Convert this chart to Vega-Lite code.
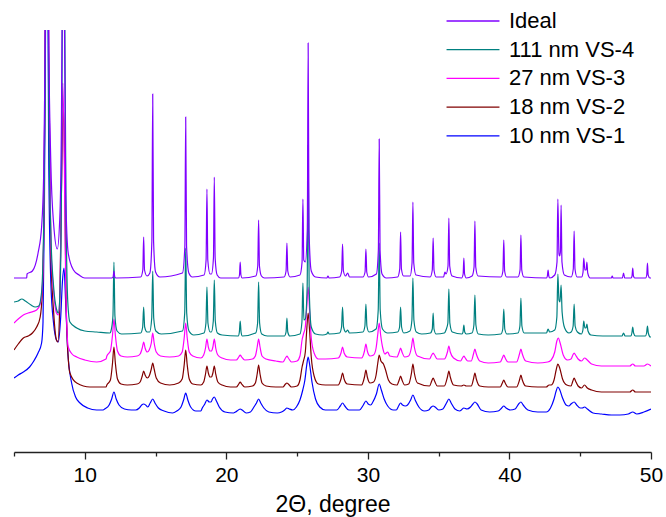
{
"$schema":"https://vega.github.io/schema/vega-lite/v6.json",
"width":637,"height":422,
"autosize":{"type":"none"},
"padding":{"left":14,"top":30,"right":15,"bottom":65},
"config":{"view":{"stroke":null},"font":"Liberation Sans"},
"datasets":{
"ideal":[{"x":5,"y":174},{"x":5.9,"y":174},{"x":5.92,"y":178},{"x":6.3,"y":181},{"x":6.7,"y":199},{"x":6.95,"y":225},{"x":7.1,"y":280},{"x":7.2,"y":400},{"x":7.33,"y":700},{"x":7.45,"y":420},{"x":7.6,"y":290},{"x":7.8,"y":228},{"x":8.06,"y":203},{"x":8.25,"y":240},{"x":8.35,"y":330},{"x":8.42,"y":480},{"x":8.48,"y":700},{"x":8.56,"y":450},{"x":8.65,"y":260},{"x":8.83,"y":199},{"x":9.2,"y":182},{"x":9.6,"y":177},{"x":10.0,"y":174},{"x":11.9,"y":174},{"x":12.0,"y":175},{"x":12.06,"y":181},{"x":12.12,"y":175},{"x":12.2,"y":174},{"x":13.95,"y":175},{"x":14.1,"y":182},{"x":14.16,"y":215},{"x":14.22,"y":182},{"x":14.4,"y":176},{"x":14.6,"y":179},{"x":14.74,"y":211},{"x":14.8,"y":358},{"x":14.86,"y":211},{"x":15.0,"y":180},{"x":15.3,"y":175},{"x":16.9,"y":179},{"x":17.07,"y":206},{"x":17.13,"y":335},{"x":17.19,"y":206},{"x":17.35,"y":179},{"x":17.6,"y":175},{"x":18.43,"y":177},{"x":18.57,"y":192},{"x":18.63,"y":263},{"x":18.69,"y":192},{"x":18.85,"y":178},{"x":18.95,"y":178},{"x":19.09,"y":194},{"x":19.15,"y":275},{"x":19.21,"y":194},{"x":19.35,"y":177},{"x":19.6,"y":174},{"x":20.85,"y":174},{"x":20.93,"y":177},{"x":20.98,"y":190},{"x":21.03,"y":177},{"x":21.12,"y":174},{"x":22.08,"y":176},{"x":22.22,"y":186},{"x":22.28,"y":232},{"x":22.34,"y":186},{"x":22.48,"y":176},{"x":22.7,"y":174},{"x":24.08,"y":175},{"x":24.22,"y":181},{"x":24.28,"y":209},{"x":24.34,"y":181},{"x":24.5,"y":175},{"x":25.2,"y":177},{"x":25.35,"y":190},{"x":25.41,"y":253},{"x":25.47,"y":192},{"x":25.58,"y":190},{"x":25.72,"y":222},{"x":25.78,"y":409},{"x":25.84,"y":222},{"x":26.0,"y":181},{"x":26.3,"y":175},{"x":27.1,"y":174},{"x":27.18,"y":176},{"x":27.26,"y":174},{"x":28.0,"y":175},{"x":28.15,"y":181},{"x":28.21,"y":208},{"x":28.27,"y":181},{"x":28.42,"y":176},{"x":28.57,"y":179},{"x":28.7,"y":175},{"x":29.65,"y":175},{"x":29.8,"y":180},{"x":29.86,"y":203},{"x":29.92,"y":180},{"x":30.05,"y":175},{"x":30.6,"y":178},{"x":30.74,"y":202},{"x":30.8,"y":313},{"x":30.86,"y":202},{"x":31.0,"y":178},{"x":31.3,"y":174},{"x":32.1,"y":175},{"x":32.25,"y":183},{"x":32.31,"y":220},{"x":32.37,"y":183},{"x":32.52,"y":176},{"x":32.98,"y":176},{"x":33.12,"y":189},{"x":33.18,"y":250},{"x":33.24,"y":189},{"x":33.4,"y":177},{"x":34.4,"y":175},{"x":34.55,"y":182},{"x":34.61,"y":214},{"x":34.67,"y":182},{"x":34.82,"y":175},{"x":35.35,"y":175},{"x":35.44,"y":180},{"x":35.52,"y":178},{"x":35.66,"y":186},{"x":35.72,"y":234},{"x":35.78,"y":186},{"x":35.95,"y":176},{"x":36.62,"y":174},{"x":36.73,"y":178},{"x":36.78,"y":194},{"x":36.83,"y":178},{"x":36.95,"y":174},{"x":37.36,"y":176},{"x":37.5,"y":185},{"x":37.56,"y":231},{"x":37.62,"y":185},{"x":37.78,"y":176},{"x":39.4,"y":175},{"x":39.54,"y":181},{"x":39.6,"y":212},{"x":39.66,"y":181},{"x":39.8,"y":175},{"x":40.6,"y":175},{"x":40.75,"y":182},{"x":40.81,"y":217},{"x":40.87,"y":182},{"x":41.02,"y":175},{"x":42.62,"y":174},{"x":42.68,"y":176},{"x":42.73,"y":182},{"x":42.78,"y":176},{"x":42.85,"y":174},{"x":43.2,"y":177},{"x":43.36,"y":190},{"x":43.42,"y":253},{"x":43.5,"y":198},{"x":43.54,"y":196},{"x":43.6,"y":200},{"x":43.65,"y":247},{"x":43.71,"y":190},{"x":43.88,"y":177},{"x":44.36,"y":175},{"x":44.51,"y":183},{"x":44.57,"y":221},{"x":44.63,"y":183},{"x":44.78,"y":175},{"x":45.1,"y":175},{"x":45.2,"y":180},{"x":45.25,"y":194},{"x":45.33,"y":182},{"x":45.42,"y":182},{"x":45.47,"y":190},{"x":45.53,"y":179},{"x":45.7,"y":174},{"x":47.2,"y":174},{"x":47.26,"y":176},{"x":47.32,"y":174},{"x":47.98,"y":174},{"x":48.06,"y":179},{"x":48.14,"y":174},{"x":48.6,"y":174},{"x":48.66,"y":176},{"x":48.71,"y":184},{"x":48.76,"y":176},{"x":48.85,"y":174},{"x":49.62,"y":174},{"x":49.7,"y":177},{"x":49.75,"y":189},{"x":49.8,"y":177},{"x":49.92,"y":174},{"x":50,"y":174}],
"v4":[{"x":5,"y":150},{"x":5.3,"y":151},{"x":5.55,"y":153},{"x":5.8,"y":151},{"x":6.2,"y":147},{"x":6.5,"y":145},{"x":6.75,"y":146},{"x":6.95,"y":160},{"x":7.1,"y":230},{"x":7.2,"y":350},{"x":7.33,"y":700},{"x":7.45,"y":350},{"x":7.6,"y":220},{"x":7.8,"y":165},{"x":8.0,"y":143},{"x":8.13,"y":139},{"x":8.25,"y":160},{"x":8.35,"y":260},{"x":8.42,"y":450},{"x":8.5,"y":700},{"x":8.58,"y":450},{"x":8.67,"y":250},{"x":8.8,"y":150},{"x":8.95,"y":130},{"x":9.43,"y":124},{"x":10.0,"y":121},{"x":10.84,"y":120},{"x":11.78,"y":119},{"x":11.85,"y":121},{"x":11.99,"y":136},{"x":12.06,"y":190},{"x":12.13,"y":136},{"x":12.28,"y":121},{"x":12.6,"y":118},{"x":13.95,"y":119},{"x":14.09,"y":125},{"x":14.16,"y":145},{"x":14.23,"y":125},{"x":14.4,"y":120},{"x":14.58,"y":120},{"x":14.73,"y":134},{"x":14.8,"y":181},{"x":14.87,"y":134},{"x":15.02,"y":121},{"x":15.4,"y":118},{"x":16.9,"y":121},{"x":17.06,"y":139},{"x":17.13,"y":204},{"x":17.2,"y":139},{"x":17.36,"y":121},{"x":17.7,"y":117},{"x":18.42,"y":119},{"x":18.56,"y":129},{"x":18.63,"y":165},{"x":18.7,"y":129},{"x":18.86,"y":120},{"x":18.94,"y":120},{"x":19.08,"y":131},{"x":19.15,"y":172},{"x":19.22,"y":131},{"x":19.37,"y":119},{"x":19.7,"y":117},{"x":20.84,"y":116},{"x":20.92,"y":120},{"x":20.98,"y":131},{"x":21.04,"y":120},{"x":21.13,"y":116},{"x":22.07,"y":119},{"x":22.21,"y":129},{"x":22.28,"y":170},{"x":22.35,"y":129},{"x":22.5,"y":118},{"x":22.9,"y":116},{"x":24.1,"y":116},{"x":24.22,"y":120},{"x":24.28,"y":134},{"x":24.34,"y":120},{"x":24.48,"y":116},{"x":25.2,"y":118},{"x":25.34,"y":130},{"x":25.41,"y":169},{"x":25.48,"y":132},{"x":25.58,"y":133},{"x":25.71,"y":165},{"x":25.78,"y":307},{"x":25.85,"y":165},{"x":26.0,"y":125},{"x":26.3,"y":118},{"x":26.8,"y":117},{"x":27.1,"y":118},{"x":27.18,"y":120},{"x":27.26,"y":118},{"x":28.0,"y":119},{"x":28.14,"y":125},{"x":28.21,"y":145},{"x":28.28,"y":125},{"x":28.44,"y":120},{"x":28.57,"y":122},{"x":28.7,"y":119},{"x":29.65,"y":120},{"x":29.79,"y":126},{"x":29.86,"y":148},{"x":29.93,"y":126},{"x":30.08,"y":120},{"x":30.58,"y":123},{"x":30.73,"y":142},{"x":30.8,"y":209},{"x":30.87,"y":142},{"x":31.03,"y":123},{"x":31.4,"y":119},{"x":32.1,"y":120},{"x":32.24,"y":125},{"x":32.31,"y":145},{"x":32.38,"y":125},{"x":32.54,"y":119},{"x":32.97,"y":121},{"x":33.11,"y":132},{"x":33.18,"y":174},{"x":33.25,"y":132},{"x":33.42,"y":120},{"x":33.8,"y":118},{"x":34.42,"y":119},{"x":34.55,"y":123},{"x":34.61,"y":139},{"x":34.67,"y":123},{"x":34.82,"y":118},{"x":35.4,"y":119},{"x":35.52,"y":122},{"x":35.65,"y":129},{"x":35.72,"y":163},{"x":35.79,"y":129},{"x":35.96,"y":120},{"x":36.65,"y":118},{"x":36.72,"y":120},{"x":36.78,"y":127},{"x":36.84,"y":120},{"x":36.95,"y":118},{"x":37.35,"y":119},{"x":37.49,"y":127},{"x":37.56,"y":157},{"x":37.63,"y":127},{"x":37.8,"y":118},{"x":38.5,"y":117},{"x":39.4,"y":118},{"x":39.53,"y":123},{"x":39.6,"y":143},{"x":39.67,"y":123},{"x":39.82,"y":118},{"x":40.6,"y":119},{"x":40.74,"y":126},{"x":40.81,"y":154},{"x":40.88,"y":126},{"x":41.04,"y":119},{"x":42.0,"y":119},{"x":42.62,"y":119},{"x":42.73,"y":123},{"x":42.84,"y":120},{"x":43.2,"y":122},{"x":43.35,"y":135},{"x":43.42,"y":178},{"x":43.5,"y":152},{"x":43.57,"y":150},{"x":43.65,"y":167},{"x":43.72,"y":140},{"x":43.9,"y":124},{"x":44.2,"y":119},{"x":44.36,"y":120},{"x":44.5,"y":126},{"x":44.57,"y":148},{"x":44.64,"y":126},{"x":44.8,"y":120},{"x":45.08,"y":118},{"x":45.19,"y":122},{"x":45.25,"y":131},{"x":45.33,"y":124},{"x":45.41,"y":124},{"x":45.47,"y":128},{"x":45.55,"y":121},{"x":45.75,"y":117},{"x":46.6,"y":116},{"x":47.5,"y":116},{"x":47.95,"y":116},{"x":48.06,"y":119},{"x":48.17,"y":116},{"x":48.58,"y":116},{"x":48.65,"y":119},{"x":48.71,"y":125},{"x":48.77,"y":119},{"x":48.9,"y":116},{"x":49.6,"y":116},{"x":49.69,"y":119},{"x":49.75,"y":126},{"x":49.81,"y":119},{"x":49.95,"y":115},{"x":50,"y":115}],
"v3":[{"x":5,"y":129},{"x":5.3,"y":133},{"x":5.66,"y":137},{"x":6.0,"y":139},{"x":6.6,"y":142},{"x":6.85,"y":148},{"x":7.0,"y":165},{"x":7.1,"y":220},{"x":7.2,"y":400},{"x":7.33,"y":700},{"x":7.45,"y":400},{"x":7.6,"y":210},{"x":7.8,"y":160},{"x":8.0,"y":139},{"x":8.13,"y":137},{"x":8.25,"y":160},{"x":8.35,"y":260},{"x":8.45,"y":369},{"x":8.55,"y":300},{"x":8.65,"y":170},{"x":8.83,"y":105},{"x":9.1,"y":98},{"x":9.43,"y":95},{"x":10.0,"y":92},{"x":10.84,"y":90},{"x":11.5,"y":93},{"x":11.56,"y":96},{"x":11.81,"y":101},{"x":11.96,"y":117},{"x":12.06,"y":133},{"x":12.16,"y":117},{"x":12.31,"y":101},{"x":12.56,"y":96},{"x":13.0,"y":95},{"x":13.7,"y":96},{"x":13.91,"y":98},{"x":14.06,"y":104},{"x":14.16,"y":110},{"x":14.26,"y":104},{"x":14.42,"y":100},{"x":14.55,"y":102},{"x":14.7,"y":109},{"x":14.8,"y":119},{"x":14.9,"y":109},{"x":15.05,"y":100},{"x":15.35,"y":96},{"x":16.0,"y":95},{"x":16.63,"y":96},{"x":16.88,"y":100},{"x":17.03,"y":115},{"x":17.13,"y":129},{"x":17.23,"y":115},{"x":17.38,"y":100},{"x":17.63,"y":96},{"x":18.2,"y":94},{"x":18.4,"y":97},{"x":18.53,"y":104},{"x":18.63,"y":113},{"x":18.73,"y":105},{"x":18.85,"y":101},{"x":18.95,"y":101},{"x":19.05,"y":105},{"x":19.15,"y":113},{"x":19.25,"y":104},{"x":19.4,"y":97},{"x":19.7,"y":94},{"x":20.3,"y":92},{"x":20.7,"y":92},{"x":20.88,"y":95},{"x":20.98,"y":97},{"x":21.08,"y":95},{"x":21.3,"y":92},{"x":21.85,"y":93},{"x":22.05,"y":96},{"x":22.18,"y":105},{"x":22.28,"y":113},{"x":22.38,"y":105},{"x":22.52,"y":96},{"x":22.8,"y":93},{"x":23.5,"y":91},{"x":24.0,"y":90},{"x":24.18,"y":94},{"x":24.28,"y":96},{"x":24.38,"y":94},{"x":24.6,"y":90},{"x":25.0,"y":91},{"x":25.2,"y":96},{"x":25.35,"y":112},{"x":25.45,"y":118},{"x":25.58,"y":125},{"x":25.68,"y":145},{"x":25.78,"y":165},{"x":25.88,"y":142},{"x":26.0,"y":114},{"x":26.2,"y":99},{"x":26.5,"y":93},{"x":27.0,"y":93},{"x":27.9,"y":94},{"x":28.1,"y":99},{"x":28.21,"y":105},{"x":28.32,"y":99},{"x":28.55,"y":95},{"x":29.55,"y":94},{"x":29.76,"y":101},{"x":29.86,"y":108},{"x":29.96,"y":101},{"x":30.15,"y":96},{"x":30.4,"y":97},{"x":30.58,"y":104},{"x":30.7,"y":118},{"x":30.8,"y":129},{"x":30.9,"y":117},{"x":31.05,"y":104},{"x":31.2,"y":98},{"x":31.4,"y":100},{"x":31.55,"y":96},{"x":32.05,"y":95},{"x":32.21,"y":100},{"x":32.31,"y":104},{"x":32.41,"y":100},{"x":32.6,"y":95},{"x":32.88,"y":96},{"x":33.08,"y":105},{"x":33.18,"y":114},{"x":33.28,"y":105},{"x":33.5,"y":96},{"x":34.35,"y":93},{"x":34.51,"y":97},{"x":34.61,"y":99},{"x":34.71,"y":97},{"x":34.9,"y":93},{"x":35.4,"y":93},{"x":35.62,"y":100},{"x":35.72,"y":106},{"x":35.82,"y":100},{"x":36.05,"y":94},{"x":36.55,"y":91},{"x":36.68,"y":94},{"x":36.78,"y":96},{"x":36.88,"y":94},{"x":37.05,"y":91},{"x":37.3,"y":91},{"x":37.46,"y":98},{"x":37.56,"y":103},{"x":37.66,"y":98},{"x":37.9,"y":91},{"x":38.5,"y":89},{"x":39.35,"y":90},{"x":39.5,"y":94},{"x":39.6,"y":97},{"x":39.7,"y":94},{"x":39.9,"y":90},{"x":40.5,"y":90},{"x":40.71,"y":98},{"x":40.81,"y":103},{"x":40.91,"y":98},{"x":41.15,"y":91},{"x":42.0,"y":89},{"x":42.7,"y":90},{"x":42.95,"y":92},{"x":43.2,"y":100},{"x":43.35,"y":111},{"x":43.45,"y":114},{"x":43.6,"y":108},{"x":43.8,"y":97},{"x":44.1,"y":92},{"x":44.35,"y":93},{"x":44.48,"y":97},{"x":44.57,"y":99},{"x":44.67,"y":97},{"x":44.85,"y":93},{"x":45.1,"y":91},{"x":45.3,"y":94},{"x":45.5,"y":92},{"x":45.8,"y":88},{"x":46.5,"y":86},{"x":47.5,"y":86},{"x":48.5,"y":86},{"x":48.71,"y":88},{"x":48.9,"y":86},{"x":49.5,"y":86},{"x":49.75,"y":88},{"x":50,"y":86}],
"v2":[{"x":5,"y":102},{"x":5.3,"y":108},{"x":5.66,"y":114},{"x":6.0,"y":116},{"x":6.3,"y":119},{"x":6.6,"y":125},{"x":6.85,"y":135},{"x":7.0,"y":160},{"x":7.1,"y":220},{"x":7.2,"y":400},{"x":7.33,"y":700},{"x":7.45,"y":400},{"x":7.6,"y":200},{"x":7.8,"y":140},{"x":8.0,"y":112},{"x":8.1,"y":110},{"x":8.22,"y":140},{"x":8.32,"y":230},{"x":8.42,"y":320},{"x":8.5,"y":344},{"x":8.58,"y":280},{"x":8.68,"y":150},{"x":8.85,"y":90},{"x":8.95,"y":79},{"x":9.43,"y":69},{"x":10.37,"y":65},{"x":11.5,"y":65},{"x":11.56,"y":67},{"x":11.81,"y":72},{"x":11.96,"y":89},{"x":12.06,"y":105},{"x":12.16,"y":89},{"x":12.31,"y":73},{"x":12.56,"y":68},{"x":13.0,"y":67},{"x":13.7,"y":68},{"x":13.91,"y":70},{"x":14.06,"y":76},{"x":14.16,"y":81},{"x":14.26,"y":77},{"x":14.42,"y":74},{"x":14.55,"y":76},{"x":14.7,"y":83},{"x":14.8,"y":89},{"x":14.9,"y":83},{"x":15.05,"y":74},{"x":15.35,"y":69},{"x":16.0,"y":67},{"x":16.63,"y":69},{"x":16.88,"y":73},{"x":17.03,"y":88},{"x":17.13,"y":102},{"x":17.23,"y":88},{"x":17.38,"y":73},{"x":17.63,"y":68},{"x":18.2,"y":67},{"x":18.4,"y":70},{"x":18.53,"y":78},{"x":18.63,"y":86},{"x":18.73,"y":79},{"x":18.85,"y":75},{"x":18.95,"y":75},{"x":19.05,"y":79},{"x":19.15,"y":86},{"x":19.25,"y":78},{"x":19.4,"y":70},{"x":19.7,"y":67},{"x":20.3,"y":65},{"x":20.7,"y":65},{"x":20.88,"y":68},{"x":20.98,"y":70},{"x":21.08,"y":68},{"x":21.3,"y":65},{"x":21.85,"y":66},{"x":22.05,"y":69},{"x":22.18,"y":78},{"x":22.28,"y":87},{"x":22.38,"y":78},{"x":22.52,"y":69},{"x":22.8,"y":66},{"x":23.5,"y":65},{"x":24.0,"y":65},{"x":24.18,"y":68},{"x":24.28,"y":69},{"x":24.38,"y":68},{"x":24.6,"y":65},{"x":25.0,"y":66},{"x":25.2,"y":72},{"x":25.35,"y":85},{"x":25.45,"y":91},{"x":25.58,"y":100},{"x":25.68,"y":122},{"x":25.78,"y":139},{"x":25.88,"y":122},{"x":26.0,"y":95},{"x":26.2,"y":76},{"x":26.5,"y":68},{"x":27.0,"y":67},{"x":27.9,"y":67},{"x":28.1,"y":73},{"x":28.21,"y":79},{"x":28.32,"y":73},{"x":28.55,"y":68},{"x":29.55,"y":67},{"x":29.76,"y":75},{"x":29.86,"y":82},{"x":29.96,"y":75},{"x":30.15,"y":69},{"x":30.4,"y":70},{"x":30.58,"y":77},{"x":30.7,"y":89},{"x":30.8,"y":97},{"x":30.92,"y":91},{"x":31.1,"y":88},{"x":31.25,"y":82},{"x":31.45,"y":72},{"x":31.7,"y":68},{"x":32.05,"y":67},{"x":32.21,"y":72},{"x":32.31,"y":76},{"x":32.41,"y":72},{"x":32.6,"y":67},{"x":32.88,"y":68},{"x":33.08,"y":79},{"x":33.18,"y":88},{"x":33.28,"y":79},{"x":33.5,"y":69},{"x":34.35,"y":66},{"x":34.51,"y":71},{"x":34.61,"y":74},{"x":34.71,"y":71},{"x":34.9,"y":66},{"x":35.4,"y":66},{"x":35.62,"y":75},{"x":35.72,"y":81},{"x":35.82,"y":75},{"x":36.05,"y":67},{"x":36.6,"y":66},{"x":36.78,"y":67},{"x":36.95,"y":66},{"x":37.3,"y":66},{"x":37.46,"y":73},{"x":37.56,"y":79},{"x":37.66,"y":73},{"x":37.9,"y":66},{"x":38.5,"y":65},{"x":39.35,"y":65},{"x":39.5,"y":69},{"x":39.6,"y":72},{"x":39.7,"y":69},{"x":39.9,"y":65},{"x":40.5,"y":65},{"x":40.71,"y":72},{"x":40.81,"y":77},{"x":40.91,"y":72},{"x":41.15,"y":66},{"x":42.0,"y":65},{"x":42.6,"y":65},{"x":42.8,"y":67},{"x":42.95,"y":67},{"x":43.15,"y":72},{"x":43.3,"y":82},{"x":43.42,"y":88},{"x":43.55,"y":84},{"x":43.75,"y":73},{"x":44.05,"y":67},{"x":44.35,"y":66},{"x":44.48,"y":71},{"x":44.57,"y":74},{"x":44.67,"y":71},{"x":44.85,"y":66},{"x":45.1,"y":64},{"x":45.3,"y":67},{"x":45.5,"y":64},{"x":45.8,"y":62},{"x":46.5,"y":60},{"x":47.5,"y":60},{"x":48.5,"y":60},{"x":48.71,"y":62},{"x":48.9,"y":60},{"x":50,"y":60}],
"v1":[{"x":5,"y":74},{"x":5.3,"y":77},{"x":5.66,"y":80},{"x":6.1,"y":85},{"x":6.4,"y":91},{"x":6.7,"y":99},{"x":6.95,"y":109},{"x":7.05,"y":130},{"x":7.15,"y":250},{"x":7.3,"y":700},{"x":7.45,"y":300},{"x":7.6,"y":170},{"x":7.8,"y":128},{"x":8.0,"y":112},{"x":8.13,"y":110},{"x":8.3,"y":135},{"x":8.42,"y":170},{"x":8.53,"y":184},{"x":8.65,"y":150},{"x":8.8,"y":100},{"x":9.07,"y":69},{"x":9.35,"y":55},{"x":9.66,"y":49},{"x":10.2,"y":44},{"x":10.84,"y":42},{"x":11.3,"y":42},{"x":11.4,"y":43},{"x":11.72,"y":47},{"x":11.9,"y":53},{"x":12.06,"y":60},{"x":12.22,"y":53},{"x":12.42,"y":47},{"x":12.8,"y":43},{"x":13.3,"y":42},{"x":13.6,"y":42},{"x":13.85,"y":44},{"x":14.02,"y":47},{"x":14.16,"y":48},{"x":14.3,"y":47},{"x":14.45,"y":45},{"x":14.62,"y":49},{"x":14.8,"y":53},{"x":14.96,"y":49},{"x":15.2,"y":44},{"x":15.6,"y":41},{"x":16.2,"y":39},{"x":16.5,"y":41},{"x":16.8,"y":45},{"x":16.98,"y":52},{"x":17.13,"y":59},{"x":17.28,"y":52},{"x":17.48,"y":45},{"x":17.85,"y":41},{"x":18.2,"y":41},{"x":18.3,"y":44},{"x":18.48,"y":48},{"x":18.63,"y":52},{"x":18.8,"y":50},{"x":18.92,"y":50},{"x":19.02,"y":53},{"x":19.15,"y":55},{"x":19.3,"y":51},{"x":19.5,"y":45},{"x":19.9,"y":40},{"x":20.5,"y":39},{"x":20.65,"y":40},{"x":20.85,"y":42},{"x":20.98,"y":43},{"x":21.12,"y":42},{"x":21.4,"y":39},{"x":21.7,"y":40},{"x":21.95,"y":45},{"x":22.13,"y":49},{"x":22.28,"y":53},{"x":22.43,"y":49},{"x":22.65,"y":44},{"x":23.0,"y":40},{"x":23.6,"y":39},{"x":23.9,"y":40},{"x":24.12,"y":42},{"x":24.28,"y":44},{"x":24.44,"y":43},{"x":24.7,"y":42},{"x":24.95,"y":45},{"x":25.2,"y":52},{"x":25.4,"y":62},{"x":25.55,"y":72},{"x":25.68,"y":87},{"x":25.78,"y":95},{"x":25.9,"y":86},{"x":26.05,"y":70},{"x":26.3,"y":53},{"x":26.6,"y":45},{"x":27.0,"y":42},{"x":27.5,"y":42},{"x":27.8,"y":42},{"x":28.05,"y":46},{"x":28.21,"y":49},{"x":28.37,"y":46},{"x":28.65,"y":42},{"x":29.4,"y":42},{"x":29.68,"y":47},{"x":29.86,"y":51},{"x":30.02,"y":48},{"x":30.2,"y":47},{"x":30.35,"y":50},{"x":30.6,"y":58},{"x":30.8,"y":68},{"x":30.95,"y":62},{"x":31.15,"y":53},{"x":31.4,"y":46},{"x":31.8,"y":42},{"x":32.0,"y":42},{"x":32.17,"y":46},{"x":32.31,"y":49},{"x":32.45,"y":47},{"x":32.65,"y":46},{"x":32.8,"y":47},{"x":33.02,"y":52},{"x":33.18,"y":57},{"x":33.34,"y":52},{"x":33.6,"y":45},{"x":34.0,"y":41},{"x":34.3,"y":42},{"x":34.48,"y":45},{"x":34.61,"y":46},{"x":34.75,"y":45},{"x":35.0,"y":42},{"x":35.3,"y":43},{"x":35.55,"y":49},{"x":35.72,"y":53},{"x":35.88,"y":49},{"x":36.15,"y":43},{"x":36.5,"y":41},{"x":36.6,"y":42},{"x":36.78,"y":44},{"x":37.0,"y":43},{"x":37.25,"y":45},{"x":37.42,"y":48},{"x":37.56,"y":50},{"x":37.72,"y":48},{"x":38.0,"y":42},{"x":38.6,"y":40},{"x":39.2,"y":41},{"x":39.45,"y":44},{"x":39.6,"y":46},{"x":39.76,"y":44},{"x":40.05,"y":42},{"x":40.4,"y":43},{"x":40.65,"y":48},{"x":40.81,"y":50},{"x":40.97,"y":47},{"x":41.3,"y":42},{"x":42.0,"y":40},{"x":42.6,"y":40},{"x":42.9,"y":44},{"x":43.15,"y":53},{"x":43.3,"y":61},{"x":43.42,"y":65},{"x":43.56,"y":62},{"x":43.75,"y":54},{"x":44.0,"y":47},{"x":44.2,"y":46},{"x":44.35,"y":48},{"x":44.57,"y":50},{"x":44.75,"y":47},{"x":45.0,"y":44},{"x":45.15,"y":44},{"x":45.3,"y":45},{"x":45.5,"y":43},{"x":45.9,"y":39},{"x":46.5,"y":38},{"x":47.2,"y":37},{"x":47.8,"y":37},{"x":48.4,"y":38},{"x":48.71,"y":40},{"x":49.0,"y":38},{"x":49.5,"y":40},{"x":50,"y":43}]
},
"layer":[
{"data":{"name":"v1"},
 "mark":{"type":"line","clip":true,"interpolate":"monotone","strokeWidth":1.2},
 "encoding":{
  "x":{"field":"x","type":"quantitative","scale":{"domain":[5,50],"nice":false},"axis":{"orient":"bottom","values":[5,15,25,35,45],"labels":false,"domain":false,"grid":false,"title":null,"tickSize":4,"tickWidth":1.3,"tickColor":"#222"}},
  "y":{"field":"y","type":"quantitative","scale":{"domain":[0,422],"nice":false,"zero":false},"axis":null},
  "color":{"datum":"10 nm VS-1","type":"nominal","scale":{"domain":["Ideal","111 nm VS-4","27 nm VS-3","18 nm VS-2","10 nm VS-1"],"range":["#7f00ff","#008080","#ff00ff","#800000","#0000ff"]},
   "legend":{"title":null,"orient":"none","legendX":448,"legendY":-20,"padding":0,"symbolType":"M-4,0H4","symbolSize":175,"symbolStrokeWidth":1.3,"labelFontSize":22,"labelColor":"#000","labelOffset":25,"rowPadding":6.7,"labelLimit":300}}}},
{"layer":[
  {"data":{"name":"v2"},"mark":{"type":"line","clip":true,"interpolate":"monotone","strokeWidth":1.2},"encoding":{"color":{"datum":"18 nm VS-2","type":"nominal"}}},
  {"data":{"name":"v3"},"mark":{"type":"line","clip":true,"interpolate":"monotone","strokeWidth":1.2},"encoding":{"color":{"datum":"27 nm VS-3","type":"nominal"}}},
  {"data":{"name":"v4"},"mark":{"type":"line","clip":true,"interpolate":"monotone","strokeWidth":1.2},"encoding":{"color":{"datum":"111 nm VS-4","type":"nominal"}}},
  {"data":{"name":"ideal"},"mark":{"type":"line","clip":true,"interpolate":"monotone","strokeWidth":1.2},"encoding":{"color":{"datum":"Ideal","type":"nominal"}}}
 ],
 "encoding":{
  "x":{"field":"x","type":"quantitative","scale":{"domain":[5,50],"nice":false},"axis":{"orient":"bottom","values":[10,20,30,40,50],"grid":false,"labelFlush":false,"tickSize":7,"tickWidth":1.3,"tickColor":"#222","domainColor":"#222","domainWidth":1.3,"labelFontSize":21,"labelColor":"#000","labelPadding":5,"title":"2Θ, degree","titleFontSize":23,"titleFontWeight":"normal","titleColor":"#000","titlePadding":8}},
  "y":{"field":"y","type":"quantitative","scale":{"domain":[0,422],"nice":false,"zero":false},"axis":null}
 }}
],
"resolve":{"axis":{"x":"independent"}}
}
